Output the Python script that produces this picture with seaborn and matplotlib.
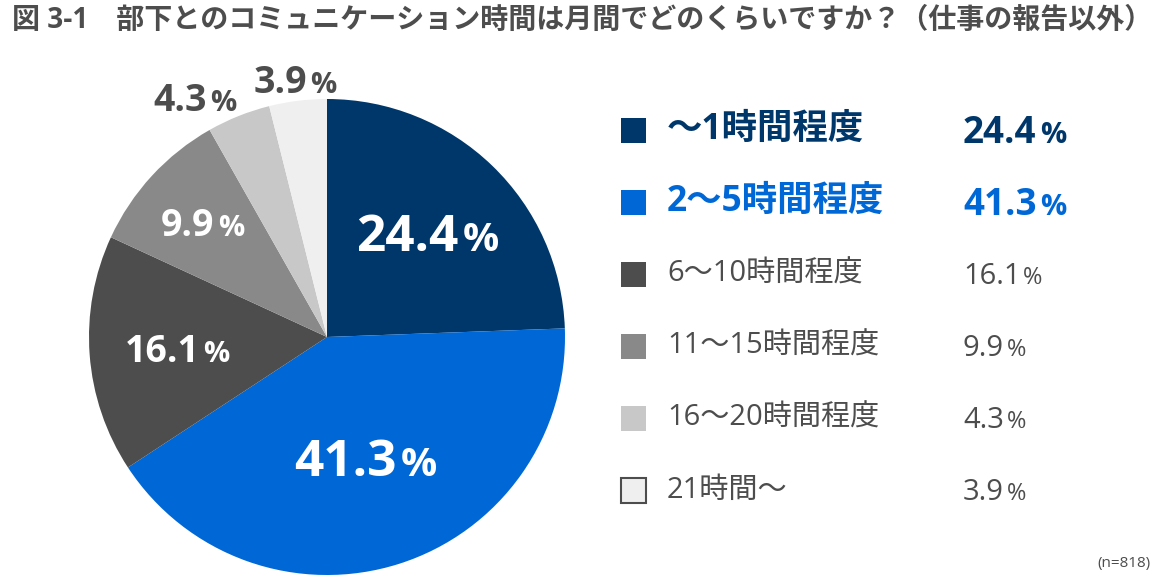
import matplotlib
matplotlib.use('Agg')
import numpy as np
import matplotlib.pyplot as plt
import seaborn as sns
from matplotlib.transforms import IdentityTransform
from matplotlib.patches import Rectangle

# data
categories = ['〜1時間程度', '2〜5時間程度', '6〜10時間程度', '11〜15時間程度', '16〜20時間程度', '21時間〜']
shares = [24.4, 41.3, 16.1, 9.9, 4.3, 3.9]
share_labels = ['24.4', '41.3', '16.1', '9.9', '4.3', '3.9']
colors = ['#00376b', '#0068d6', '#4d4d4d', '#898989', '#c8c8c8', '#efefef']
title = '図 3-1　部下とのコミュニケーション時間は月間でどのくらいですか？（仕事の報告以外）'
note = '(n=818)'

sns.set_theme(style='white')
plt.rcParams['font.family'] = ['Open Sans', 'Noto Sans CJK JP', 'DejaVu Sans']

W, H = 1160, 580
fig = plt.figure(figsize=(W / 100, H / 100), dpi=100)
fig.patch.set_facecolor('white')

# pie: centre (327, 337) px from top-left, radius 238 px
cx, cy, r = 327, 337, 238
ax = fig.add_axes([(cx - r) / W, (H - cy - r) / H, 2 * r / W, 2 * r / H])
wedges, _ = ax.pie(shares, colors=colors, startangle=90, counterclock=False,
                   radius=1, wedgeprops=dict(linewidth=0))
ax.set_xlim(-1, 1)
ax.set_ylim(-1, 1)
ax.set_aspect('equal')
ax.axis('off')

renderer = fig.canvas.get_renderer()
ident = IdentityTransform()


def pct_text(x, y, num, size, psize, color, weight, align='center'):
    # x, y in display px (y = baseline); big number + smaller %
    t1 = fig.text(x, y, num, fontsize=size, color=color, fontweight=weight,
                  ha='left', va='baseline', transform=ident)
    t2 = fig.text(x, y, '%', fontsize=psize, color=color, fontweight=weight,
                  ha='left', va='baseline', transform=ident)
    w1 = t1.get_window_extent(renderer).width
    w2 = t2.get_window_extent(renderer).width
    gap = size * 0.12
    x0 = x - (w1 + gap + w2) / 2 if align == 'center' else x
    t1.set_x(x0)
    t2.set_x(x0 + w1 + gap)


# labels on / around the slices
label_r = [0.61, 0.53, 0.63, 0.71, 1.15, 1.09]
label_shift = [0, 0, 0, 0, 7, 0]
label_size = [37, 37, 27, 27, 27, 27]
label_psize = [29, 29, 21, 21, 21, 21]
label_color = ['white', 'white', 'white', 'white', '#4d4d4d', '#4d4d4d']
for w, txt, lr, sh, s, ps, c in zip(wedges, share_labels, label_r, label_shift,
                                    label_size, label_psize, label_color):
    ang = np.deg2rad((w.theta1 + w.theta2) / 2 + sh)
    px, py = ax.transData.transform((lr * np.cos(ang), lr * np.sin(ang)))
    pct_text(px, py - 0.36 * s * 100 / 72, txt, s, ps, c, 'bold')

# legend
row_y = [130, 202, 274, 346, 418, 490]
for i, (cat, val, col) in enumerate(zip(categories, share_labels, colors)):
    y = H - row_y[i]
    strong = i < 2
    tcol = col if strong else '#4d4d4d'
    fig.patches.append(Rectangle((621, y - 12.5), 25, 25, transform=ident,
                                 facecolor=col,
                                 edgecolor='#4d4d4d' if i == 5 else col,
                                 linewidth=1.5 if i == 5 else 0))
    ls = 25.5 if strong else 21
    fig.text(667, y, cat, fontsize=ls, color=tcol,
             fontweight='bold' if strong else 'normal',
             ha='left', va='center', transform=ident)
    vs = 26.5 if strong else 21
    pct_text(963, y - 0.36 * vs * 100 / 72, val, vs, 21 if strong else 17, tcol,
             'bold' if strong else 'normal', align='left')

fig.text(12, H - 20, title, fontsize=20.2, fontweight='bold', color='#4d4d4d',
         ha='left', va='center', transform=ident)
fig.text(1150, H - 563, note, fontsize=11, color='#4d4d4d',
         ha='right', va='center', transform=ident)

fig.savefig('out.png', dpi=100)
